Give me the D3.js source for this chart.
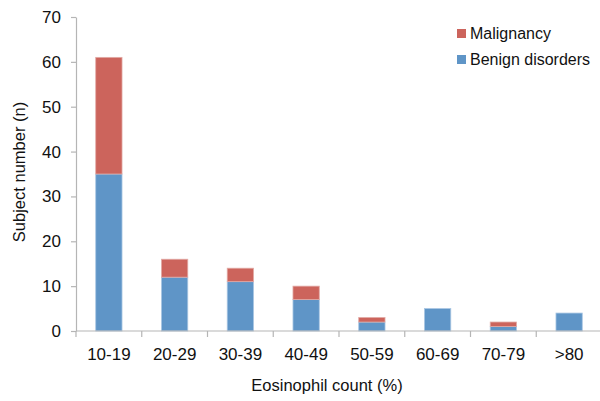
<!DOCTYPE html>
<html>
<head>
<meta charset="utf-8">
<script src="https://cdn.jsdelivr.net/npm/d3@7"></script>
<style>
  html, body { margin: 0; padding: 0; background: #fff; }
  svg { display: block; font-family: "Liberation Sans", Arial, sans-serif; }
</style>
</head>
<body>
<svg id="chart" width="600" height="401"></svg>
<script>
// Eosinophil count groups and subject counts per diagnosis group
const categories = ["10-19", "20-29", "30-39", "40-49", "50-59", "60-69", "70-79", ">80"];
const benign = [35, 12, 11, 7, 2, 5, 1, 4];
const malignancy = [26, 4, 3, 3, 1, 0, 1, 0];
const yTicks = [0, 10, 20, 30, 40, 50, 60, 70];
const seriesNames = ["Benign disorders", "Malignancy"];
const seriesColors = ["#5f95c7", "#cc645c"];

const svg = d3.select("#chart");
const margin = { left: 76, right: -2, top: 17, bottom: 70 };
const width = 600, height = 401;

const x = d3.scaleBand()
  .domain(categories)
  .range([margin.left, width - margin.right])
  .paddingInner(0.6)
  .paddingOuter(0.3);

const y = d3.scaleLinear()
  .domain([0, 70])
  .range([height - margin.bottom, margin.top]);

const rows = categories.map((c, i) => ({ cat: c, "Benign disorders": benign[i], "Malignancy": malignancy[i] }));
const stacked = d3.stack().keys(seriesNames)(rows);

// Bars
svg.append("g").selectAll("g")
  .data(stacked)
  .join("g")
  .attr("fill", (d, i) => seriesColors[i])
  .attr("stroke", (d, i) => i === 0 ? "#a9c6e3" : "#e2aaa5")
  .attr("stroke-width", 0.8)
  .selectAll("rect")
  .data(d => d.filter(s => s[1] - s[0] > 0))
  .join("rect")
  .attr("x", d => x(d.data.cat))
  .attr("width", x.bandwidth())
  .attr("y", d => y(d[1]))
  .attr("height", d => y(d[0]) - y(d[1]));

// Y axis
const yAxis = svg.append("g")
  .attr("transform", `translate(${margin.left},0)`)
  .call(d3.axisLeft(y).tickValues(yTicks).tickSize(5).tickPadding(10).tickSizeOuter(0));
yAxis.select(".domain").attr("stroke", "#b5b5b5").attr("stroke-width", 1.2);
yAxis.selectAll(".tick line").attr("stroke", "#b5b5b5").attr("stroke-width", 1.2);
yAxis.selectAll(".tick text").attr("font-size", 17).attr("fill", "#111")
  .attr("font-family", "Liberation Sans, Arial, sans-serif");

// X axis with ticks at band boundaries
const xBottom = y(0);
const xg = svg.append("g");
xg.append("line")
  .attr("x1", margin.left).attr("x2", width)
  .attr("y1", xBottom).attr("y2", xBottom)
  .attr("stroke", "#b5b5b5").attr("stroke-width", 1.2);
const bounds = d3.range(categories.length + 1).map(i => margin.left + i * x.step());
xg.selectAll("line.tk")
  .data(bounds)
  .join("line")
  .attr("class", "tk")
  .attr("x1", d => d).attr("x2", d => d)
  .attr("y1", xBottom).attr("y2", xBottom + 6)
  .attr("stroke", "#b5b5b5").attr("stroke-width", 1.2);
xg.selectAll("text")
  .data(categories)
  .join("text")
  .attr("x", d => x(d) + x.bandwidth() / 2)
  .attr("y", 360)
  .attr("text-anchor", "middle")
  .attr("font-size", 17)
  .attr("fill", "#111")
  .text(d => d);

// Axis titles
svg.append("text")
  .attr("x", 327).attr("y", 391)
  .attr("text-anchor", "middle")
  .attr("font-size", 16.5)
  .attr("fill", "#111")
  .text("Eosinophil count (%)");

svg.append("text")
  .attr("transform", "translate(25,172) rotate(-90)")
  .attr("text-anchor", "middle")
  .attr("font-size", 16.5)
  .attr("fill", "#111")
  .text("Subject number (n)");

// Legend (Malignancy listed first)
const legendItems = [
  { name: "Malignancy", color: seriesColors[1] },
  { name: "Benign disorders", color: seriesColors[0] }
];
const legend = svg.append("g").selectAll("g")
  .data(legendItems)
  .join("g")
  .attr("transform", (d, i) => `translate(457,${29 + i * 26})`);
legend.append("rect")
  .attr("width", 9).attr("height", 9)
  .attr("fill", d => d.color);
legend.append("text")
  .attr("x", 13).attr("y", 10)
  .attr("font-size", 16)
  .attr("fill", "#111")
  .text(d => d.name);
</script>
</body>
</html>
